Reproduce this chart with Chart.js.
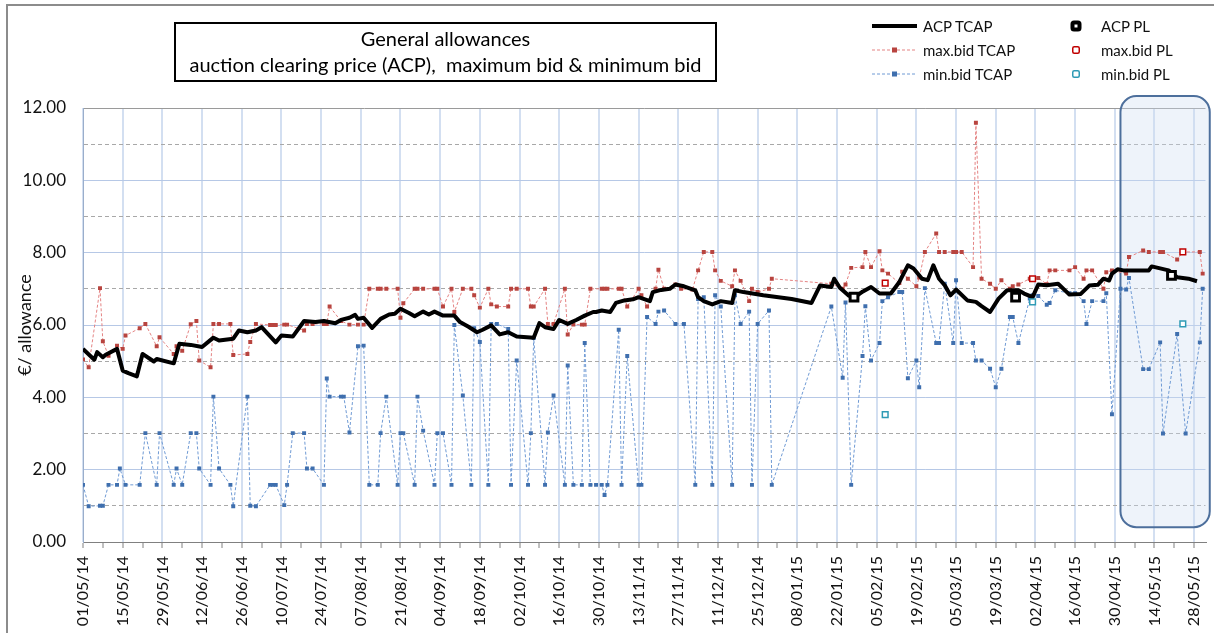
<!DOCTYPE html>
<html>
<head>
<meta charset="utf-8">
<title>General allowances</title>
<script src="https://cdn.jsdelivr.net/npm/chart.js@4.4.1/dist/chart.umd.min.js"></script>
<style>
  html, body { margin: 0; padding: 0; background: #fff; overflow: hidden; }
  #wrap { position: relative; width: 1214px; height: 633px; font-family: Lato, "Noto Sans", sans-serif; }
  #frame { position: absolute; left: 6px; top: 4px; width: 1300px; height: 700px; border: 2px solid #8c8c8c; }
  #chart { position: absolute; left: 0; top: 0; }
  #title { position: absolute; left: 174px; top: 22px; width: 539px; height: 55px; border: 2px solid #000;
           text-align: center; font-size: 20px; line-height: 26px; padding-top: 1px; white-space: pre; color: #000; }
  .leg { position: absolute; height: 20px; display: flex; align-items: center; font-size: 15px; color: #111; }
  .leg svg { margin-right: 5px; }
</style>
</head>
<body>
<div id="wrap">
  <div id="frame"></div>
  <canvas id="chart" width="1214" height="633"></canvas>
  <div id="title">General allowances
auction clearing price (ACP),  maximum bid &amp; minimum bid</div>
  <div id="legend"></div>
</div>
<script>
// days counted from 01/05/2014
const startDate = Date.UTC(2014, 4, 1);

const acpDay = [0, 4, 5, 7, 8, 12, 14, 16, 19, 21, 25, 26, 32, 34, 38, 42, 46, 48, 53, 55, 58, 61, 63, 68, 70, 74, 78, 82, 85, 89,
  91, 94, 96, 97, 99, 102, 105, 108, 110, 112, 115, 117, 120, 122, 124, 127, 131, 133, 136, 139, 141, 144, 147, 150, 153, 159,
  161, 163, 166, 168, 171, 174, 177, 180, 181, 183, 186, 188, 191, 194, 196, 200, 201, 204, 207, 209, 212, 216, 217, 219, 222,
  225, 229, 230, 233, 240, 250, 257, 260, 264, 265, 267, 270, 272, 275, 278, 281, 285, 288, 291, 293, 296, 298, 300, 302, 304,
  306, 308, 312, 315, 317, 320, 323, 326, 330, 332, 335, 337, 340, 344, 348, 352, 355, 358, 360, 362, 363, 365, 367, 376, 377,
  383, 386, 390, 393];
const acpTcap = [5.34, 5.04, 5.25, 5.11, 5.18, 5.34, 4.74, 4.67, 4.58, 5.20, 4.99, 5.06, 4.94, 5.48, 5.45, 5.39, 5.65, 5.57, 5.62,
  5.85, 5.80, 5.85, 5.94, 5.52, 5.71, 5.68, 6.11, 6.08, 6.11, 6.05, 6.14, 6.20, 6.28, 6.17, 6.20, 5.92, 6.17, 6.29, 6.31, 6.45,
  6.33, 6.24, 6.37, 6.29, 6.37, 6.26, 6.26, 6.08, 5.95, 5.80, 5.87, 5.99, 5.74, 5.80, 5.68, 5.65, 6.05, 5.94, 5.89, 6.14, 6.03,
  6.14, 6.26, 6.36, 6.36, 6.40, 6.36, 6.61, 6.68, 6.71, 6.77, 6.66, 6.91, 6.97, 7.00, 7.12, 7.07, 6.96, 6.77, 6.66, 6.57, 6.66,
  6.61, 6.96, 6.91, 6.82, 6.72, 6.61, 7.09, 7.05, 7.28, 7.03, 6.82, 6.75, 6.92, 7.05, 6.87, 6.87, 7.19, 7.65, 7.56, 7.28, 7.24,
  7.65, 7.28, 7.10, 6.82, 6.98, 6.68, 6.64, 6.52, 6.36, 6.73, 6.96, 6.96, 6.87, 6.77, 7.12, 7.10, 7.14, 6.84, 6.86, 7.09, 7.11,
  7.28, 7.23, 7.42, 7.54, 7.51, 7.51, 7.62, 7.51, 7.32, 7.28, 7.21];

const maxBidDay = [0, 2, 6, 7, 9, 12, 14, 15, 20, 22, 26, 27, 32, 33, 35, 38, 40, 41, 45, 46, 48, 52, 53, 58, 59, 61, 66, 67, 68,
  71, 72, 78, 79, 81, 85, 86, 87, 91, 94, 97, 99, 101, 104, 105, 107, 111, 112, 113, 117, 118, 120, 124, 125, 127, 130, 131, 134,
  137, 138, 140, 143, 144, 146, 150, 151, 153, 157, 158, 159, 163, 164, 166, 170, 171, 173, 176, 177, 179, 183, 184, 185, 189,
  190, 192, 196, 197, 199, 202, 203, 205, 209, 211, 215, 217, 219, 222, 223, 225, 229, 230, 232, 235, 236, 238, 242, 243, 264,
  268, 269, 271, 275, 276, 278, 281, 282, 284, 288, 289, 291, 294, 295, 297, 301, 302, 304, 307, 308, 310, 314, 315, 317, 320,
  322, 324, 327, 328, 330, 334, 337, 340, 341, 343, 348, 350, 353, 354, 356, 360, 361, 363, 368, 369, 374, 376, 380, 381, 386,
  388, 394, 395];
const maxBidTcap = [5.05, 4.83, 7.02, 5.55, 5.15, 5.43, 5.34, 5.71, 5.91, 6.03, 5.41, 5.66, 5.20, 5.41, 5.29, 6.02, 6.11, 5.02,
  4.83, 6.03, 6.03, 6.03, 5.17, 5.20, 5.53, 6.03, 6.00, 6.00, 6.00, 6.01, 6.01, 5.85, 6.03, 6.03, 6.03, 6.03, 6.51, 6.11, 6.01,
  6.01, 6.01, 7.00, 7.00, 7.00, 7.00, 7.00, 6.20, 6.60, 7.00, 7.00, 7.00, 7.00, 7.00, 6.51, 7.00, 6.36, 7.00, 7.00, 6.82, 6.48,
  7.00, 6.57, 6.51, 6.51, 7.00, 7.00, 7.00, 6.51, 6.51, 7.00, 6.03, 6.03, 7.00, 5.74, 6.01, 6.01, 6.01, 7.00, 7.00, 7.00, 7.00,
  7.00, 7.00, 6.51, 7.00, 6.82, 6.51, 7.00, 7.53, 7.00, 7.12, 7.00, 6.98, 7.51, 8.02, 8.02, 7.51, 7.22, 7.07, 7.51, 7.22, 6.66,
  7.00, 6.91, 7.00, 7.28, 7.14, 7.00, 7.12, 7.58, 7.60, 8.02, 7.60, 8.04, 7.51, 7.42, 7.16, 7.47, 7.28, 7.07, 7.31, 8.02, 8.53,
  8.02, 8.02, 8.02, 8.02, 8.02, 7.60, 11.59, 7.28, 7.14, 7.00, 7.24, 7.00, 7.07, 7.12, 7.28, 7.30, 7.13, 7.51, 7.51, 7.51, 7.60,
  7.28, 7.51, 7.51, 7.00, 7.46, 7.51, 7.42, 7.88, 8.06, 8.02, 8.02, 8.02, 7.81, 8.02, 8.02, 7.42];

const minBidDay = [0, 2, 6, 7, 9, 12, 13, 15, 20, 22, 26, 27, 32, 33, 35, 38, 40, 41, 45, 46, 48, 52, 53, 58, 59, 61, 66, 67, 68,
  71, 72, 74, 78, 79, 81, 85, 86, 87, 91, 92, 94, 97, 99, 101, 104, 105, 107, 111, 112, 113, 117, 118, 120, 124, 125, 127, 130,
  131, 134, 137, 138, 140, 143, 144, 146, 150, 151, 153, 157, 158, 159, 163, 164, 166, 170, 171, 173, 176, 177, 179, 181, 183,
  184, 185, 189, 190, 192, 196, 197, 199, 202, 203, 205, 209, 212, 216, 217, 219, 222, 223, 225, 229, 230, 232, 235, 236, 238,
  242, 243, 264, 268, 269, 271, 275, 276, 278, 281, 282, 284, 288, 289, 291, 294, 295, 297, 301, 302, 304, 307, 308, 310, 314,
  315, 317, 320, 322, 324, 327, 328, 330, 334, 335, 337, 340, 341, 343, 348, 350, 353, 354, 356, 360, 361, 363, 366, 368, 369,
  374, 376, 380, 381, 386, 389, 394, 395];
const minBidTcap = [1.58, 0.99, 1.00, 1.00, 1.58, 1.58, 2.03, 1.58, 1.58, 3.01, 1.58, 3.01, 1.58, 2.03, 1.58, 3.01, 3.01, 2.03,
  1.58, 4.02, 2.03, 1.58, 0.99, 4.02, 1.00, 0.99, 1.58, 1.58, 1.58, 1.02, 1.58, 3.01, 3.01, 2.03, 2.03, 1.58, 4.52, 4.02, 4.02,
  4.02, 3.03, 5.41, 5.43, 1.58, 1.58, 3.01, 4.02, 1.58, 3.01, 3.01, 1.58, 4.02, 3.08, 1.58, 3.01, 3.01, 1.58, 6.00, 4.05, 1.58,
  5.91, 5.53, 1.58, 6.03, 6.03, 5.89, 1.58, 5.02, 1.58, 3.01, 5.64, 1.58, 3.03, 4.05, 1.58, 4.88, 1.58, 1.58, 5.50, 1.58, 1.58,
  1.58, 1.30, 1.58, 5.87, 1.58, 5.14, 1.58, 1.58, 6.22, 6.03, 6.37, 6.40, 6.03, 6.03, 1.58, 6.72, 6.77, 1.58, 6.82, 6.51, 1.58,
  6.82, 6.03, 6.37, 1.58, 6.03, 6.40, 1.58, 6.51, 4.54, 6.62, 1.58, 5.14, 6.52, 5.02, 5.50, 6.66, 6.77, 6.91, 6.91, 4.53, 5.02,
  4.28, 7.02, 5.50, 5.50, 7.14, 5.50, 7.24, 5.50, 5.50, 5.02, 5.02, 4.79, 4.28, 4.79, 6.22, 6.22, 5.50, 6.73, 6.82, 6.80, 6.56,
  6.61, 6.96, 6.88, 6.88, 6.66, 6.03, 6.66, 6.66, 6.88, 3.53, 7.00, 6.98, 7.30, 4.78, 4.78, 5.52, 3.00, 5.75, 3.00, 5.52, 7.00];

const acpPlDay = [272, 329, 384];
const acpPl = [6.77, 6.77, 7.37];
const maxBidPlDay = [283, 335, 388];
const maxBidPl = [7.16, 7.28, 8.02];
const minBidPlDay = [283, 335, 388];
const minBidPl = [3.52, 6.64, 6.03];

const xMax = 396;
const yMax = 12;

function pts(days, vals) {
    return days.map((d, i) => ({ x: d, y: vals[i] }));
}

function dayLabel(d) {
    const t = new Date(startDate + d * 86400000);
    const dd = String(t.getUTCDate()).padStart(2, '0');
    const mm = String(t.getUTCMonth() + 1).padStart(2, '0');
    const yy = String(t.getUTCFullYear()).slice(2);
    return dd + '/' + mm + '/' + yy;
}

// shaded box around the last weeks
const highlightBox = {
    id: 'highlightBox',
    beforeDatasetsDraw(chart) {
        const { ctx, scales: { x, y } } = chart;
        const l = x.getPixelForValue(366), r = x.getPixelForValue(397.5);
        const t = y.getPixelForValue(12.33), b = y.getPixelForValue(0.41);
        ctx.save();
        ctx.beginPath();
        ctx.roundRect(l, t, r - l, b - t, 16);
        ctx.fillStyle = 'rgba(205,220,242,0.35)';
        ctx.fill();
        ctx.lineWidth = 2;
        ctx.strokeStyle = '#4d6f9c';
        ctx.stroke();
        ctx.restore();
    }
};

Chart.defaults.font.family = 'Lato, "Noto Sans", sans-serif';
Chart.defaults.color = '#111';

const datasets = [
    {
        label: 'ACP PL', data: pts(acpPlDay, acpPl), showLine: false,
        pointStyle: 'rect', pointRadius: 5.5, pointBorderWidth: 3,
        pointBorderColor: '#000', pointBackgroundColor: '#fff'
    },
    {
        label: 'max.bid PL', data: pts(maxBidPlDay, maxBidPl), showLine: false,
        pointStyle: 'rect', pointRadius: 4, pointBorderWidth: 1.5,
        pointBorderColor: '#c00000', pointBackgroundColor: '#fff'
    },
    {
        label: 'min.bid PL', data: pts(minBidPlDay, minBidPl), showLine: false,
        pointStyle: 'rect', pointRadius: 4, pointBorderWidth: 1.5,
        pointBorderColor: '#2f9bb5', pointBackgroundColor: '#fff'
    },
    {
        label: 'ACP TCAP', data: pts(acpDay, acpTcap),
        borderColor: '#000', borderWidth: 4, pointRadius: 0, borderJoinStyle: 'round'
    },
    {
        label: 'max.bid TCAP', data: pts(maxBidDay, maxBidTcap),
        borderColor: '#e48383', borderWidth: 1, borderDash: [3, 2],
        pointStyle: 'rect', pointRadius: 2.8, pointBorderWidth: 0,
        pointBackgroundColor: '#b8443f'
    },
    {
        label: 'min.bid TCAP', data: pts(minBidDay, minBidTcap),
        borderColor: '#6f9ad4', borderWidth: 1, borderDash: [3, 2],
        pointStyle: 'rect', pointRadius: 2.8, pointBorderWidth: 0,
        pointBackgroundColor: '#3f6fae'
    }
];

const ctx = document.getElementById('chart').getContext('2d');
const myChart = new Chart(ctx, {
    type: 'line',
    data: { datasets: datasets },
    plugins: [highlightBox],
    options: {
        responsive: false,
        devicePixelRatio: 1,
        animation: false,
        events: [],
        layout: { padding: { top: 108, right: 6, left: 0, bottom: 0 } },
        plugins: { legend: { display: false }, tooltip: { enabled: false } },
        elements: { line: { tension: 0 } },
        scales: {
            x: {
                type: 'linear', min: 0, max: xMax,
                afterBuildTicks: s => {
                    const t = [];
                    for (let d = 0; d <= xMax; d += 7) t.push({ value: d });
                    s.ticks = t;
                },
                afterFit: s => {
                    s.height = 633 - 542;
                    s.paddingLeft = 0;
                    s.paddingRight = 0;
                },
                ticks: {
                    autoSkip: false, minRotation: 90, maxRotation: 90, padding: 8,
                    font: { size: 16 }, color: '#111',
                    callback: v => (v % 14 === 0 ? dayLabel(v) : '')
                },
                grid: {
                    color: c => (c.tick && c.tick.value % 14 === 0 ? '#d3dff1' : 'rgba(0,0,0,0)'),
                    lineWidth: 2,
                    tickColor: '#808080', tickLength: 6, tickWidth: 1
                },
                border: { display: true, color: '#808080', width: 1 }
            },
            y: {
                min: 0, max: yMax,
                afterBuildTicks: s => {
                    const t = [];
                    for (let v = 0; v <= yMax; v += 1) t.push({ value: v });
                    s.ticks = t;
                },
                afterFit: s => { s.width = 83; },
                ticks: {
                    padding: 17, font: { size: 17 }, color: '#111',
                    callback: v => (v % 2 === 0 ? v.toFixed(2) : '')
                },
                grid: {
                    drawTicks: false, lineWidth: 1,
                    color: c => (c.tick && c.tick.value % 2 === 1 ? '#a8a8a8' : (c.tick && c.tick.value === yMax ? '#9a9a9a' : '#b6c8e6'))
                },
                border: {
                    display: true, color: '#9aaecb', width: 1,
                    dash: c => (c.tick && c.tick.value % 2 === 1 ? [4, 3] : [])
                },
                title: {
                    display: true, text: '€/ allowance', font: { size: 18 }, color: '#111',
                    padding: { top: 14, bottom: 0 }
                }
            }
        }
    }
});

// legend in two columns, styles taken from the datasets
function swatch(ds) {
    if (ds.showLine === false) {
        const s = ds.pointRadius * 2;
        const w = ds.pointBorderWidth + (ds.pointBorderWidth > 2 ? 1 : 0);
        return '<svg width="24" height="18"><rect x="' + (12 - s / 2 + w / 2) + '" y="' + (9 - s / 2 + w / 2) +
            '" width="' + (s - w) + '" height="' + (s - w) + '" rx="1.5" fill="#fff" stroke="' + ds.pointBorderColor +
            '" stroke-width="' + w + '"/></svg>';
    }
    let svg = '<svg width="46" height="18"><line x1="0" y1="9" x2="45" y2="9" stroke="' + ds.borderColor +
        '" stroke-width="' + ds.borderWidth + '"' + (ds.borderDash ? ' stroke-dasharray="' + ds.borderDash.join(',') + '"' : '') + '/>';
    if (ds.pointRadius > 0) {
        svg += '<rect x="20" y="6.5" width="5" height="5" fill="' + ds.pointBackgroundColor + '"/>';
    }
    return svg + '</svg>';
}

const legendPos = {
    'ACP TCAP': [872, 16], 'max.bid TCAP': [872, 40], 'min.bid TCAP': [872, 64],
    'ACP PL': [1064, 16], 'max.bid PL': [1064, 40], 'min.bid PL': [1064, 64]
};
const legend = document.getElementById('legend');
datasets.forEach(ds => {
    const p = legendPos[ds.label];
    const div = document.createElement('div');
    div.className = 'leg';
    div.style.left = p[0] + 'px';
    div.style.top = p[1] + 'px';
    const pad = ds.showLine === false ? '<span style="display:inline-block;width:8px"></span>' : '';
    div.innerHTML = swatch(ds) + pad + '<span>' + ds.label + '</span>';
    legend.appendChild(div);
});
</script>
</body>
</html>
